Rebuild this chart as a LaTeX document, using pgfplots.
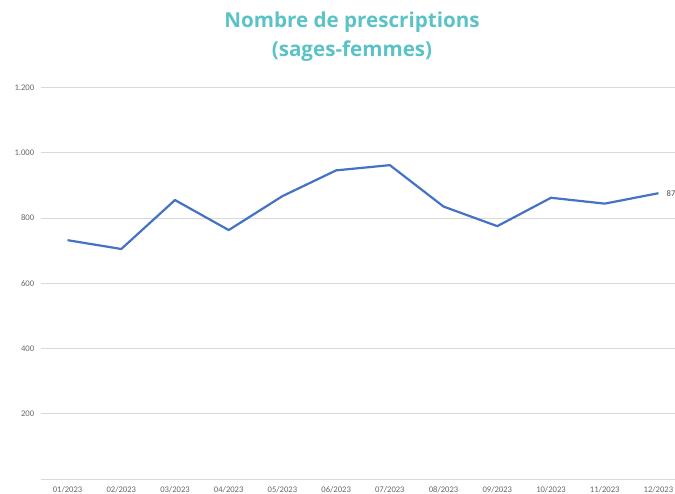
\documentclass[border=0pt]{standalone}
\usepackage{fontspec}
\setmainfont{Carlito}
\newfontfamily\titlefont{Open Sans}
\usepackage{pgfplots}
\pgfplotsset{compat=1.18}
\definecolor{linec}{HTML}{4472C4}
\definecolor{gridc}{HTML}{D9D9D9}
\definecolor{tickc}{HTML}{666666}
\definecolor{titlec}{HTML}{5BC2C7}
\begin{document}
\begin{tikzpicture}[x=1pt,y=1pt]
\useasboundingbox (0,0) rectangle (675,493);
\begin{axis}[
  at={(40.7pt,14pt)}, anchor=south west,
  scale only axis, width=644.6pt, height=391.5pt,
  xmin=-0.5, xmax=11.5, ymin=0, ymax=1200,
  xtick={0,...,11},
  xticklabels={01/2023,02/2023,03/2023,04/2023,05/2023,06/2023,07/2023,08/2023,09/2023,10/2023,11/2023,12/2023},
  ytick={200,400,600,800,1000,1200},
  /pgf/number format/.cd, assume math mode=true, 1000 sep={.},
  /pgfplots/.cd,
  axis x line*=bottom, axis y line*=left,
  x axis line style={draw=gridc, line width=0.8pt, -},
  y axis line style={draw=none},
  ymajorgrids, grid style={draw=gridc, line width=0.8pt},
  major tick length=0pt,
  tick label style={font=\fontsize{8.6}{10}\selectfont, text=tickc},
  xticklabel style={yshift=-3.5pt},
  yticklabel style={xshift=-3pt},
  clip=false,
]
\addplot[linec, line width=2.2pt, line join=round] coordinates {
(0,732) (1,705) (2,855) (3,763) (4,867) (5,946) (6,962) (7,835) (8,775) (9,862) (10,844) (11,876)
};
\node[anchor=west, font=\fontsize{8.6}{10}\selectfont, text=black!70, inner sep=0pt, xshift=8pt] at (axis cs:11,876) {876};
\end{axis}
\node[font=\titlefont\bfseries\fontsize{20.6}{29}\selectfont, text=titlec, align=center] at (352,456.5) {Nombre de prescriptions\\(sages-femmes)};
\end{tikzpicture}
\end{document}
